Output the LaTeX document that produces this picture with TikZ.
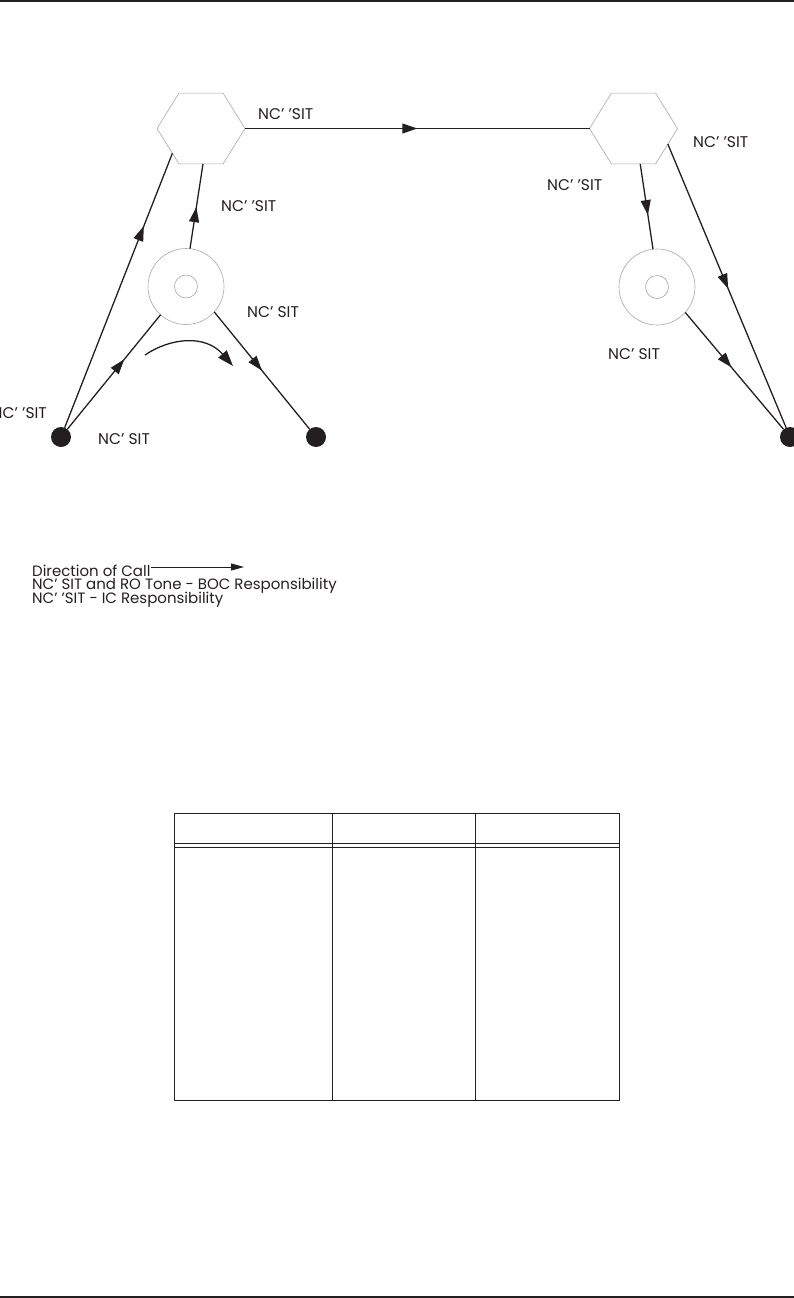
\documentclass[tikz,border=0pt]{standalone}
\usepackage{fontspec}
\setmainfont{Poppins}
\usetikzlibrary{arrows.meta,decorations.markings,shapes.geometric}
\definecolor{ink}{HTML}{231F20}
\definecolor{hexgray}{HTML}{A8A8A8}
\begin{document}
\begin{tikzpicture}[x=1pt,y=-1pt,
  conn/.style={ink, line width=1.3pt},
  midarrow/.style={postaction={decorate}, decoration={markings, mark=at position #1 with {\arrow{Triangle[length=15pt,width=10pt]}}}},
  hexa/.style={draw=hexgray, line width=0.6pt, regular polygon, regular polygon sides=6, minimum size=88pt, inner sep=0pt, outer sep=0pt},
  ring/.style={draw=hexgray, line width=0.6pt, circle, minimum size=76pt, inner sep=0pt, outer sep=0pt},
  hole/.style={draw=hexgray, line width=0.6pt, circle, minimum size=23pt, inner sep=0pt, outer sep=0pt},
  dot/.style={fill=ink, circle, minimum size=20pt, inner sep=0pt, outer sep=0pt},
  lbl/.style={font=\fontsize{15.5}{17}\selectfont, text=ink, inner sep=0pt, anchor=base west},
  leg/.style={font=\fontsize{15}{15}\selectfont, text=ink, inner sep=0pt, anchor=base west},
  rule/.style={fill=ink, draw=none},
  tbl/.style={draw=ink, line width=1pt},
]
\useasboundingbox (0,0) rectangle (794,1298);
\clip (0,0) rectangle (794,1298);

% page rules
\path[rule] (0,0) rectangle (794,2.2);
\path[rule] (0,1295.8) rectangle (794,1298);

% switching nodes
\node[hexa, yscale=0.93] (H1) at (201,128.5) {};
\node[hexa, yscale=0.93] (H2) at (633.5,128.5) {};
\node[ring] (C1) at (186,286.5) {};
\node[hole] (I1) at (186,286.5) {};
\node[ring] (C2) at (657,287) {};
\node[hole] (I2) at (657,287) {};
\node[dot] (D1) at (61,437) {};
\node[dot] (D2) at (316,437) {};
\node[dot] (D3) at (790,437) {};

% connectors
\draw[conn, midarrow=0.735] (D1) -- (H1.223);
\draw[conn, midarrow=0.61] (D1) -- (C1.228);
\draw[conn, midarrow=0.49] (C1.84) -- (H1.-87);
\draw[conn, midarrow=0.5] (C1.-42) -- (D2);
\draw[conn, line width=1.1pt, midarrow=0.5] (H1.east) -- (H2.west);
\draw[conn, midarrow=0.6] (H2.-80) -- (C2.96);
\draw[conn, midarrow=0.51] (H2.-26) -- (D3);
\draw[conn, midarrow=0.47] (C2.-42) -- (D3);

% curved direction arrow
\coordinate (ca) at (145,355);
\coordinate (cb) at (233,366);
\draw[conn, -{Triangle[length=16pt,width=11pt]}] (ca) .. controls (170,338) and (205,334) .. (cb);

% labels
\node[lbl] (T1) at (258,119) {NC’ ’SIT};
\node[lbl] (T2) at (221,211) {NC’ ’SIT};
\node[lbl] (T3) at (247,317) {NC’ SIT};
\node[lbl, anchor=base east] (T4) at (47,418) {NC’ ’SIT};
\node[lbl] (T5) at (98,444) {NC’ SIT};
\node[lbl] (T6) at (693,147) {NC’ ’SIT};
\node[lbl] (T7) at (547,190) {NC’ ’SIT};
\node[lbl] (T8) at (608,359) {NC’ SIT};

% legend
\node[leg] (L1) at (32,576) {Direction of Call};
\node[leg] (L2) at (32,589.5) {NC’ SIT and RO Tone - BOC Responsibility};
\node[leg] (L3) at (32,603) {NC’ ’SIT - IC Responsibility};
\coordinate (legB) at (244,567);
\draw[ink, line width=0.9pt, -{Triangle[length=13pt,width=7pt]}] (L1.east |- legB) -- (legB);

% table
\draw[tbl] (174,813) rectangle (619,1100);
\draw[tbl] (332,813) -- (332,1100);
\draw[tbl] (475,813) -- (475,1100);
\draw[tbl] (174,843) -- (619,843);
\draw[tbl] (174,847.5) -- (619,847.5);
\end{tikzpicture}
\end{document}
